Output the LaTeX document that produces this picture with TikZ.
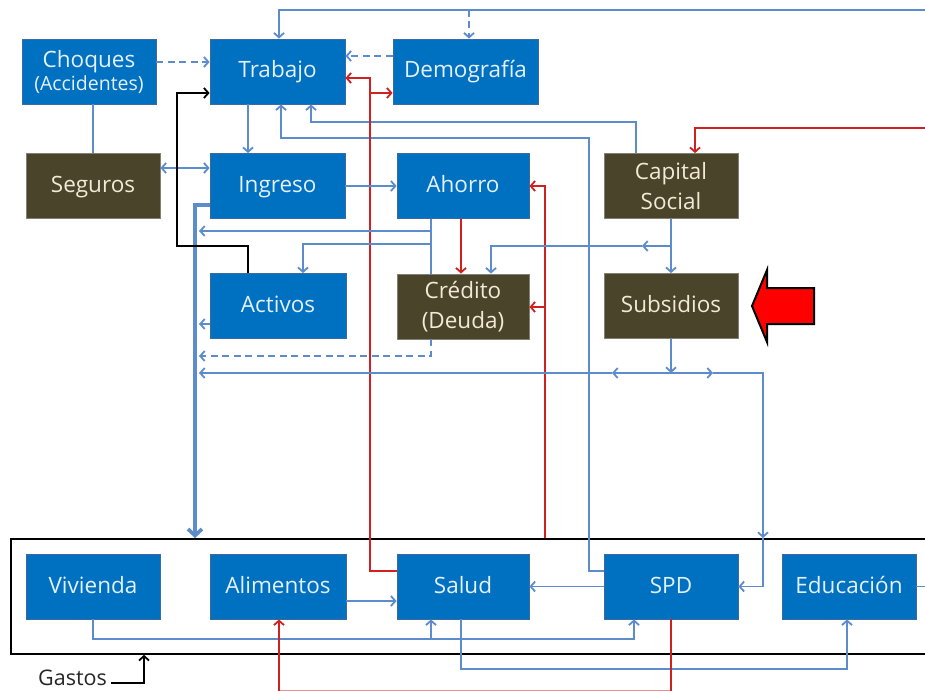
\documentclass[tikz,border=0pt]{standalone}
\usepackage{fontspec}
\setmainfont{Open Sans}
\usetikzlibrary{arrows.meta}
\definecolor{boxblue}{RGB}{0,112,192}
\definecolor{boxdark}{RGB}{74,68,43}
\definecolor{edgeblue}{RGB}{60,105,160}
\definecolor{edgedark}{RGB}{130,128,115}
\definecolor{txtblue}{RGB}{228,240,252}
\definecolor{txtdark}{RGB}{242,234,214}
\definecolor{lineblue}{RGB}{92,140,204}
\definecolor{linered}{RGB}{208,32,32}
\tikzset{
  bbox/.style={draw=edgeblue, fill=boxblue, text=txtblue, minimum height=65pt, inner sep=0pt,
    align=center, font=\fontsize{22.5}{30}\selectfont, line width=0.8pt},
  dbox/.style={bbox, draw=edgedark, fill=boxdark, text=txtdark},
  oneline/.style={text height=16pt, text depth=3pt},
  blueln/.style={draw=lineblue, line width=1.8pt},
  redln/.style={draw=linered, line width=1.8pt},
  blackln/.style={draw=black, line width=1.8pt},
  thickln/.style={draw=lineblue, line width=3.6pt},
  arr/.style={-{Straight Barb[length=4.5pt,width=10pt]}},
  arrtwo/.style={{Straight Barb[length=4.5pt,width=10pt]}-{Straight Barb[length=4.5pt,width=10pt]}},
  bigarr/.style={-{Straight Barb[length=6.5pt,width=14pt]}},
  dsh/.style={dash pattern=on 7pt off 4.5pt},
}
\begin{document}
\begin{tikzpicture}[x=1pt,y=-1pt]
\useasboundingbox (0,0) rectangle (925,690);
% helper coordinates
\foreach \v in {93,177,199,195,248,279,281,303,311,370,431,461,469,491,545,589,612,634,636,642,671,695,713,763,847,144}{
  \coordinate (X\v) at (\v,0);}
\foreach \v in {10,56,62,78,93,122,128,138,168,205,231,244,246,307,324,356,373,571,601,639,669,683,691,693}{
  \coordinate (Y\v) at (0,\v);}
\coordinate (edgeR) at (932,0);
% boxes
\node[bbox, minimum width=134pt] (cho) at (89,71.5) {Choques\\[-7pt]{\fontsize{19.5}{24}\selectfont(Accidentes)}};
\node[bbox, oneline, minimum width=135pt] (tra) at (277.5,71.5) {Trabajo};
\node[bbox, oneline, minimum width=145pt] (dem) at (465.5,71.5) {Demografía};
\node[dbox, oneline, minimum width=134pt] (seg) at (93,186) {Seguros};
\node[bbox, oneline, minimum width=135pt] (ing) at (277.5,186) {Ingreso};
\node[bbox, oneline, minimum width=132pt] (aho) at (463,186) {Ahorro};
\node[dbox, minimum width=134pt] (cap) at (671,186) {Capital\\Social};
\node[bbox, oneline, minimum width=136pt] (act) at (278,306) {Activos};
\node[dbox, minimum width=132pt] (cre) at (463,306.5) {Crédito\\(Deuda)};
\node[dbox, oneline, minimum width=134pt] (sub) at (671,306) {Subsidios};
\node[draw=black, line width=1.8pt, minimum width=930pt, minimum height=115pt, inner sep=0pt, anchor=north west] (gas) at (10,538) {};
\node[bbox, oneline, minimum width=134pt] (viv) at (93,586.5) {Vivienda};
\node[bbox, oneline, minimum width=136pt] (ali) at (278,586.5) {Alimentos};
\node[bbox, oneline, minimum width=132pt] (sal) at (463,586.5) {Salud};
\node[bbox, oneline, minimum width=134pt] (spd) at (671,586.5) {SPD};
\node[bbox, oneline, minimum width=134pt] (edu) at (849,586.5) {Educación};
\node[inner sep=0pt, font=\fontsize{21.5}{30}\selectfont, text=black!85] (gastos) at (72.5,678) {Gastos};
% big red arrow
\draw[fill=red, draw=black, line width=2pt, line join=miter] (752,306) -- (767,270) -- (767,288) -- (814,288) -- (814,324) -- (767,324) -- (767,342) -- cycle;
% top connectors
\coordinate (topR) at (932,10);
\coordinate (redR) at (932,128);
\draw[blueln,arr] (topR) -| (tra.north -| X279);
\draw[blueln,dsh,arr] (X469 |- topR) -- (dem.north -| X469);
\draw[blueln,dsh,arr] (cho.east |- Y62) -- (tra.west |- Y62);
\draw[blueln,dsh,arr] (dem.west |- Y56) -- (tra.east |- Y56);
\draw[blueln] (cho.south -| seg.north) -- (seg.north);
\draw[blueln,arrtwo] (seg.east |- Y168) -- (ing.west |- Y168);
\draw[blueln,arr] (tra.south -| X248) -- (ing.north -| X248);
\draw[blueln,arr] (cap.north -| X636) |- (X311 |- Y122) -- (tra.south -| X311);
\draw[blueln,arr] (spd.west |- Y571) -| (X589 |- Y138) -| (tra.south -| X281);
\draw[redln,arr] (sal.west |- Y571) -| (X370 |- Y78) -- (tra.east |- Y78);
\draw[redln,arr] (X370 |- Y93) -- (dem.west |- Y93);
\draw[redln,arr] (redR) -| (cap.north -| X695);
% middle
\draw[blueln,arr] (ing.east) -- (aho.west);
\draw[thickln,bigarr] (ing.west |- Y205) -| (gas.north -| X195);
\draw[blueln] (aho.south -| X431) -- (cre.north -| X431);
\draw[blueln,arr] (X431 |- Y231) -- (X199 |- Y231);
\draw[blueln,arr] (X431 |- Y244) -| (act.north -| X303);
\draw[redln,arr] (aho.south -| X461) -- (cre.north -| X461);
\draw[redln,arr] (gas.north -| X545) |- (aho.east);
\draw[redln,arr] (X545 |- Y307) -- (cre.east |- Y307);
\draw[blueln,arr] (cap.south) -- (sub.north);
\draw[blueln,arr] (X671 |- Y246) -- (X642 |- Y246);
\draw[blueln,arr] (X642 |- Y246) -| (cre.north -| X491);
\draw[blueln,dsh,arr] (cre.south -| X431) |- (X199 |- Y356);
\draw[blueln,arr] (act.west |- Y324) -- (X199 |- Y324);
\draw[blueln,arr] (sub.south) -- (X671 |- Y373);
\draw[blueln,arr] (X671 |- Y373) -- (X612 |- Y373);
\draw[blueln,arr] (X612 |- Y373) -- (X199 |- Y373);
\draw[blueln,arr] (X671 |- Y373) -- (X713 |- Y373);
\draw[blueln,arr] (X713 |- Y373) -| (gas.north -| X763);
\draw[blueln,arr] (gas.north -| X763) |- (spd.east);
\draw[blackln,arr] (act.north -| X248) |- (X177 |- Y246) |- (tra.west |- Y93);
% bottom
\draw[blueln,arr] (ali.east |- Y601) -- (sal.west |- Y601);
\draw[blueln,arr] (spd.west) -- (sal.east);
\draw[blueln,arr] (viv.south) |- (X634 |- Y639) -- (spd.south -| X634);
\draw[blueln,arr] (X431 |- Y639) -- (sal.south -| X431);
\draw[blueln,arr] (sal.south -| X461) |- (X847 |- Y669) -- (edu.south -| X847);
\draw[blueln] (edu.east) -- (edgeR |- edu.east);
\draw[redln,arr] (X279 |- Y693) -- (ali.south -| X279);
\draw[redln] (spd.south) -- (X671 |- Y693);
\draw[redln, opacity=0.5] (X279 |- Y691) -- (X671 |- Y691);
\draw[blackln,arr] ([xshift=4pt]gastos.east |- Y683) -| (gas.south -| X144);
\end{tikzpicture}
\end{document}
